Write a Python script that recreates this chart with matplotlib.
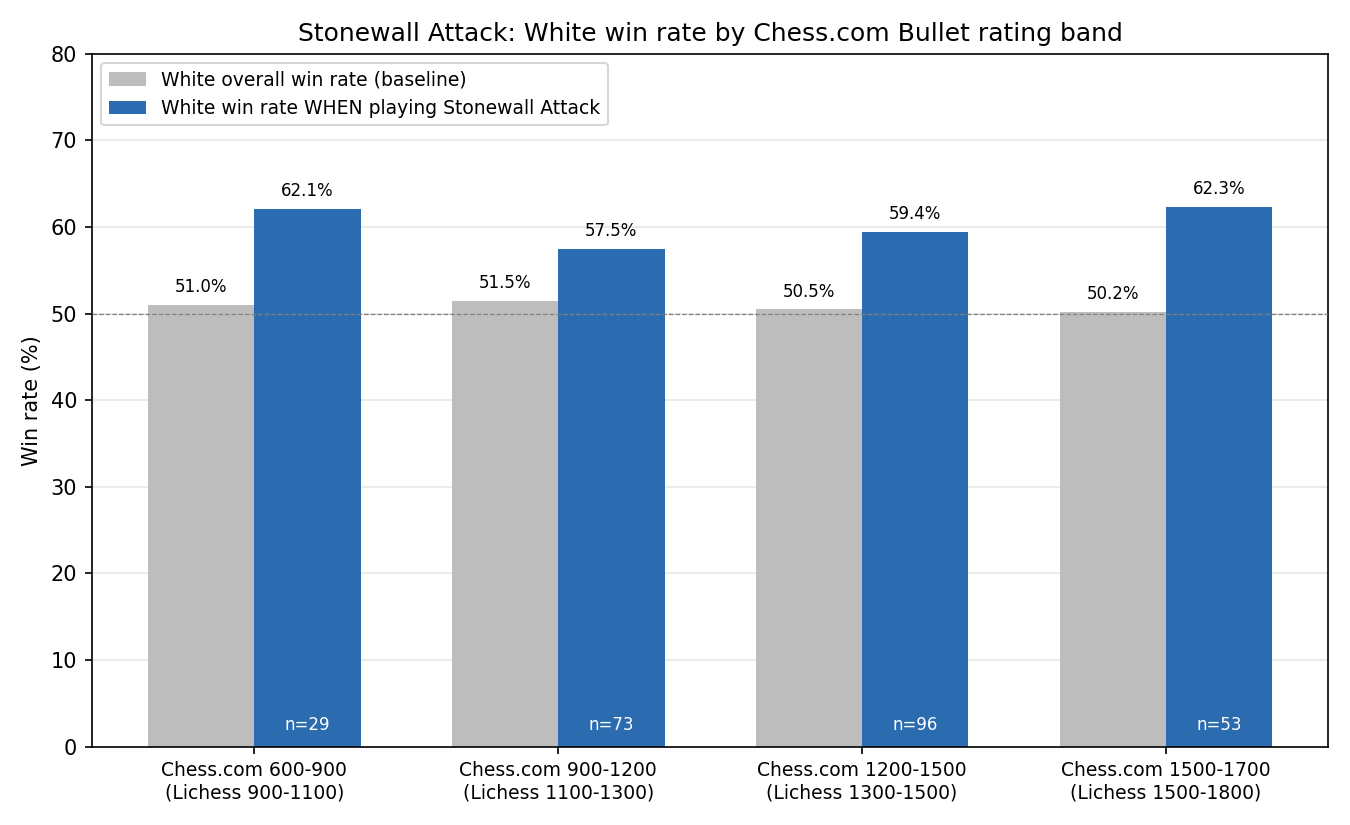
import matplotlib
matplotlib.use('Agg')
import matplotlib.pyplot as plt
import numpy as np

# rating bands and win rates
bands = ['Chess.com 600-900\n(Lichess 900-1100)',
         'Chess.com 900-1200\n(Lichess 1100-1300)',
         'Chess.com 1200-1500\n(Lichess 1300-1500)',
         'Chess.com 1500-1700\n(Lichess 1500-1800)']
baseline = [51.0, 51.5, 50.5, 50.2]
stonewall = [62.1, 57.5, 59.4, 62.3]
n_games = [29, 73, 96, 53]

x = np.arange(len(bands))
w = 0.35

fig, ax = plt.subplots(figsize=(9, 5.5), dpi=150)
fig.subplots_adjust(left=0.068, right=0.984, top=0.935, bottom=0.095)

ax.bar(x - w/2, baseline, w, color='#bdbdbd', label='White overall win rate (baseline)', zorder=2)
ax.bar(x + w/2, stonewall, w, color='#2b6cb0', label='White win rate WHEN playing Stonewall Attack', zorder=2)

# value labels
for i in range(len(bands)):
    ax.text(x[i] - w/2, baseline[i] + 1, f'{baseline[i]:.1f}%',
            ha='center', va='bottom', fontsize=8)
    ax.text(x[i] + w/2, stonewall[i] + 1, f'{stonewall[i]:.1f}%',
            ha='center', va='bottom', fontsize=8)
    ax.text(x[i] + w/2, 2.5, f'n={n_games[i]}', ha='center', va='center',
            color='white', fontsize=8, zorder=3)

ax.axhline(50, color='gray', linestyle='--', linewidth=0.6, zorder=3)
ax.yaxis.grid(True, alpha=0.3, zorder=0)
ax.set_axisbelow(True)

ax.set_ylim(0, 80)
ax.set_xticks(x)
ax.set_xticklabels(bands, fontsize=9)
ax.set_ylabel('Win rate (%)')
ax.set_title('Stonewall Attack: White win rate by Chess.com Bullet rating band')
ax.legend(loc='upper left', fontsize=9)

plt.savefig('out.png', dpi=150)
